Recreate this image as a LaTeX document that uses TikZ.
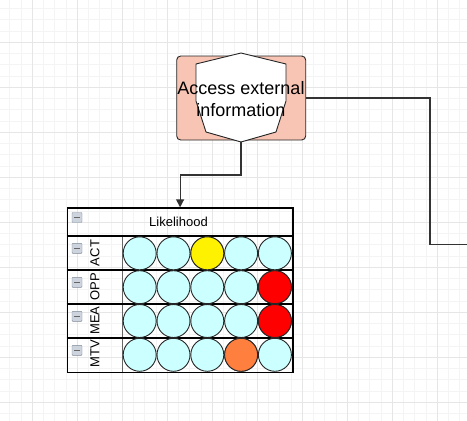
\documentclass[tikz,border=0pt]{standalone}
\usepackage{fontspec}
\setmainfont{Liberation Sans}
\usetikzlibrary{arrows.meta}
\definecolor{pinkfill}{HTML}{F8C4B4}
\definecolor{cyanfill}{HTML}{CCFFFF}
\definecolor{orangefill}{HTML}{FF7F3F}
\definecolor{minorgrid}{HTML}{F4F4F4}
\definecolor{majorgrid}{HTML}{E6E6E6}
\definecolor{iconfill}{HTML}{CDD4DD}
\definecolor{iconline}{HTML}{7D8896}
\tikzset{
  minorline/.style={draw=minorgrid, line width=0.8pt},
  majorline/.style={draw=majorgrid, line width=1pt},
  conn/.style={draw=black!80, line width=1.2pt},
  circ/.style={circle, draw=black!85, line width=0.9pt, minimum size=33pt, inner sep=0pt},
  minusicon/.style={draw=iconline, fill=iconfill, minimum size=10pt, inner sep=0pt, rounded corners=0.8pt,
    path picture={\draw[line width=1.5pt, black!60] ([xshift=2.2pt]path picture bounding box.west) -- ([xshift=-2.2pt]path picture bounding box.east);}},
  rowlabel/.style={rotate=90, font=\fontsize{13}{15}\selectfont, inner sep=0pt},
}
\begin{document}
\begin{tikzpicture}[x=1pt,y=-1pt]
\useasboundingbox[fill=white] (0,0) rectangle (467,421);
\clip (0,0) rectangle (467,421);
% grid
\foreach \i in {0,...,40} \draw[minorline] ({9.8+11.25*\i},0) -- ({9.8+11.25*\i},421);
\foreach \i in {0,...,36} \draw[minorline] (0,{8.55+11.25*\i}) -- (467,{8.55+11.25*\i});
\foreach \i in {0,...,9} \draw[majorline] ({32.3+45*\i},0) -- ({32.3+45*\i},421);
\foreach \i in {0,...,8} \draw[majorline] (0,{42.3+45*\i}) -- (467,{42.3+45*\i});

% pink box with shield shape
\node[draw=black!85, line width=0.9pt, rounded corners=4pt, fill=pinkfill, minimum width=129pt, minimum height=84pt] (box) at (241.2,98) {};
\draw[fill=white, draw=black!85, line width=0.9pt] (241,53) -- (286,64) -- (286,101) -- (276,132) -- (241,142) -- (206,132) -- (196,101) -- (196,64) -- cycle;
\coordinate (shb) at (241,142);
\node[align=center, font=\fontsize{18}{22}\selectfont, inner sep=0pt] (lbl) at (241,99) {Access external\\information};

% table
\node[draw=black, line width=1.2pt, minimum width=225.6pt, minimum height=164.4pt, anchor=north west, inner sep=0pt] (tbl) at (66.7,207.3) {};
\draw[black!60, line width=1.2pt] (122.7,236) -- (122.7,371.7);
\foreach \y in {236,270,304,338} \draw[black, line width=1.2pt] (66.7,\y) -- (292.3,\y);
\node[font=\fontsize{13}{15}\selectfont] (hdr) at (178.5,222) {Likelihood};
\node[minusicon] (i0) at (77,217.5) {};
\node[minusicon] (i1) at (77,248.3) {};
\node[minusicon] (i2) at (77,282.3) {};
\node[minusicon] (i3) at (77,316.3) {};
\node[minusicon] (i4) at (77,350.3) {};
\node[rowlabel] (l1) at (95,253) {ACT};
\node[rowlabel] (l2) at (95,287) {OPP};
\node[rowlabel] (l3) at (95,320.5) {MEA};
\node[rowlabel] (l4) at (95,354) {MTV};

% circles
\foreach \r/\y in {1/253.3,2/287.2,3/321,4/354.8}{
  \foreach \c in {1,...,5}{
    \node[circ, fill=cyanfill] (c\r\c) at ({139.7+33.8*(\c-1)},\y) {};
  }
}
\node[circ, fill=yellow] (y13) at (207.3,253.3) {};
\node[circ, fill=red] (r25) at (274.9,287.2) {};
\node[circ, fill=red] (r35) at (274.9,321) {};
\node[circ, fill=orangefill] (o44) at (241.1,354.8) {};

% connectors
\coordinate (bend) at (241,175);
\draw[conn, -{Triangle[length=8pt,width=8pt]}] (shb) -- (bend) -| (tbl.north);
\coordinate (c2) at (430,244.3);
\coordinate (rend) at (470,244.3);
\draw[conn] (box.east) -| (c2) -- (rend);
\end{tikzpicture}
\end{document}
